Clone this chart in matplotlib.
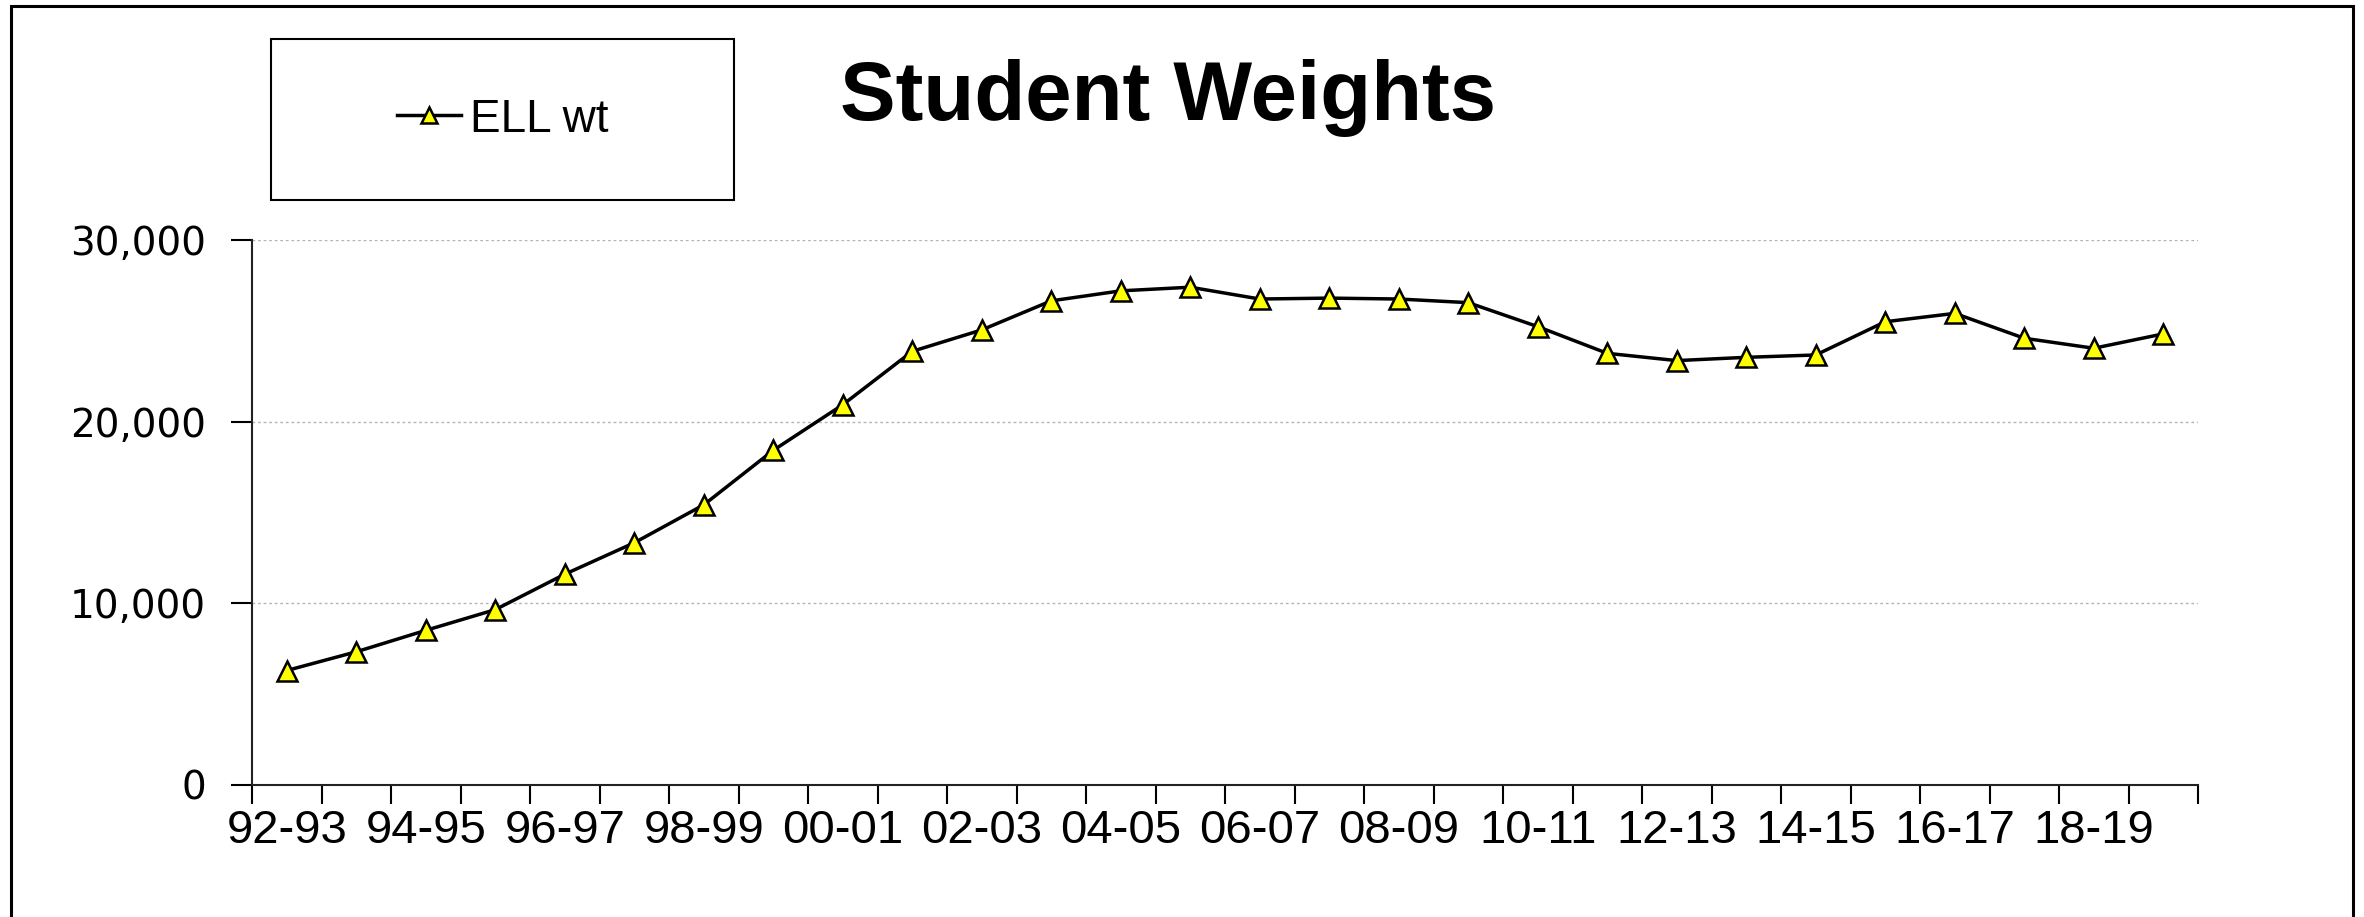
import matplotlib
matplotlib.use("Agg")
import matplotlib.pyplot as plt
from matplotlib.patches import Rectangle
from matplotlib.ticker import StrMethodFormatter, FixedLocator
import numpy as np

# school years, 92-93 .. 19-20
years = ["92-93", "93-94", "94-95", "95-96", "96-97", "97-98", "98-99", "99-00",
         "00-01", "01-02", "02-03", "03-04", "04-05", "05-06", "06-07", "07-08",
         "08-09", "09-10", "10-11", "11-12", "12-13", "13-14", "14-15", "15-16",
         "16-17", "17-18", "18-19", "19-20"]
ell_wt = [6300, 7330, 8510, 9650, 11600, 13330, 15420, 18420,
          20930, 23870, 25050, 26650, 27200, 27400, 26750, 26800,
          26750, 26550, 25230, 23760, 23360, 23540, 23670, 25500,
          25960, 24590, 24040, 24830]
y_ticks = [0, 10000, 20000, 30000]

fig = plt.figure(figsize=(23.64, 9.17), dpi=100)
ax = fig.add_axes([0.1066, 0.1440, 0.9298 - 0.1066, 0.7383 - 0.1440])

x = np.arange(len(years))
line, = ax.plot(x, ell_wt, color="black", lw=2.5, marker="^", markersize=15,
                markerfacecolor="#ffff00", markeredgecolor="black",
                markeredgewidth=1.8, label="ELL wt", zorder=3)

ax.set_xlim(-0.5, len(years) - 0.5)
ax.set_ylim(0, 30000)

# y axis
ax.yaxis.set_major_locator(FixedLocator(y_ticks))
ax.yaxis.set_major_formatter(StrMethodFormatter("{x:,.0f}"))
ax.tick_params(axis="y", direction="out", length=15, width=1.5, pad=18,
               labelsize=28)
for lab in ax.get_yticklabels():
    lab.set_family("DejaVu Sans")
ax.grid(axis="y", color="#b5b5b5", lw=1.0, linestyle=(0, (2, 2)))

# x axis: ticks between categories, labels every other category
ax.set_xticks(np.arange(-0.5, len(years), 1.0))
ax.set_xticklabels([])
ax.tick_params(axis="x", which="major", direction="out", length=14, width=1.5)
ax.set_xticks(x[::2], minor=True)
ax.set_xticklabels(years[::2], minor=True, family="Liberation Sans", fontsize=34)
ax.tick_params(axis="x", which="minor", length=0, pad=17)

for s in ["top", "right"]:
    ax.spines[s].set_visible(False)
for s in ["left", "bottom"]:
    ax.spines[s].set_linewidth(1.5)
    ax.spines[s].set_color("#222222")

# title
fig.text(0.494, 0.893, "Student Weights", ha="center", va="center",
         fontsize=60, fontweight="bold", family="Liberation Sans")

# legend box
lx0, lx1 = 271 / 2364, 734 / 2364
ly0, ly1 = 1 - 200 / 917, 1 - 39 / 917
fig.patches.append(Rectangle((lx0, ly0), lx1 - lx0, ly1 - ly0, transform=fig.transFigure,
                             fill=False, edgecolor="black", lw=1.5))
fig.legend(handles=[line], loc="center", bbox_to_anchor=(lx0, ly0, lx1 - lx0, ly1 - ly0),
           frameon=False, prop={"family": "Liberation Sans", "size": 33},
           handlelength=1.4, handletextpad=0.2, markerscale=0.75)

# outer frame
fig.patches.append(Rectangle((11 / 2364, -0.02), (2353 - 11) / 2364, 1.02 - 6 / 917,
                             transform=fig.transFigure, fill=False,
                             edgecolor="black", lw=2.2, clip_on=False))

fig.savefig("out.png", dpi=100, facecolor="white")
